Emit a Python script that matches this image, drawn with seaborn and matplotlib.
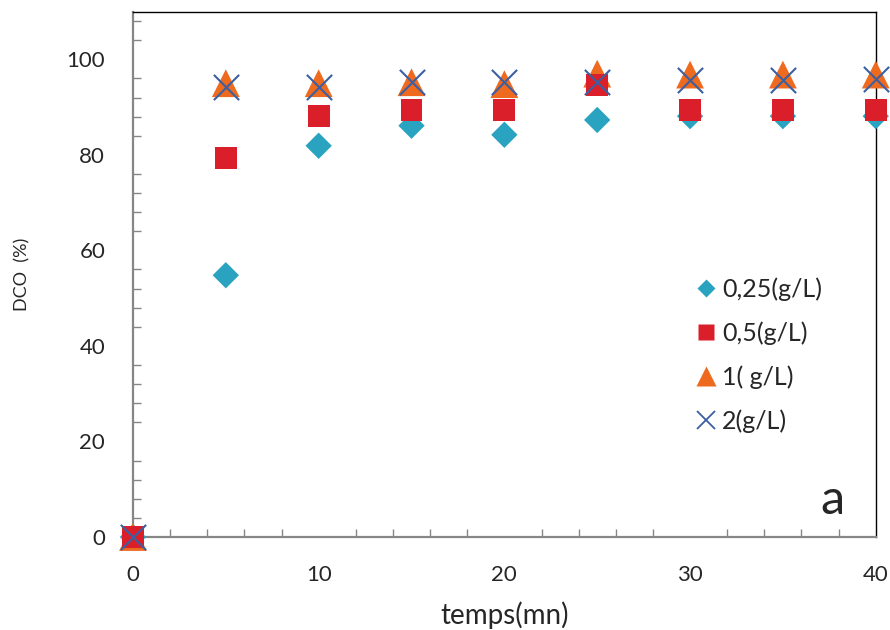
import matplotlib
matplotlib.use("Agg")
import matplotlib.pyplot as plt
import seaborn as sns
import pandas as pd
from matplotlib.ticker import MultipleLocator
from matplotlib.lines import Line2D

temps = [0, 5, 10, 15, 20, 25, 30, 35, 40]
dco_025 = [0, 54.8, 81.9, 86.1, 84.2, 87.3, 88.1, 88.1, 88.1]
dco_05 = [0, 79.4, 88.2, 89.3, 89.3, 94.6, 89.3, 89.3, 89.3]
dco_1 = [0, 95.0, 95.0, 95.2, 94.8, 97.0, 96.8, 96.8, 96.8]
dco_2 = [0, 94.3, 94.3, 95.2, 95.2, 95.3, 95.7, 95.7, 95.8]
labels = ["0,25(g/L)", "0,5(g/L)", "1( g/L)", "2(g/L)"]

sns.set_style("white")
plt.rcParams['font.family'] = ['Lato', 'DejaVu Sans']

fig = plt.figure(figsize=(8.9, 6.3), dpi=100)
ax = fig.add_axes([0.1494, 0.1476, 0.8346, 0.8341])

c_d, c_s, c_t, c_x = "#2AA3C0", "#DB1F2A", "#EE6A1F", "#3C5FA2"

sns.scatterplot(x=temps, y=dco_025, marker="D", s=180, color=c_d, edgecolor="none", ax=ax, zorder=3, clip_on=False)
sns.scatterplot(x=temps, y=dco_1, marker="^", s=400, color=c_t, edgecolor="none", ax=ax, zorder=4, clip_on=False)
sns.scatterplot(x=temps, y=dco_05, marker="s", s=250, color=c_s, edgecolor="none", ax=ax, zorder=5, clip_on=False)
sns.scatterplot(x=temps, y=dco_2, marker="x", s=330, color=c_x, linewidth=1.5, ax=ax, zorder=6, clip_on=False)

ax.set_xlim(0, 40)
ax.set_ylim(0, 110)
ax.xaxis.set_major_locator(MultipleLocator(10))
ax.xaxis.set_minor_locator(MultipleLocator(2))
ax.yaxis.set_major_locator(MultipleLocator(20))
ax.yaxis.set_minor_locator(MultipleLocator(4))

gray = "#868686"
for s in ["left", "bottom"]:
    ax.spines[s].set_color(gray)
    ax.spines[s].set_linewidth(1.6)
for s in ["top", "right"]:
    ax.spines[s].set_color("black")
    ax.spines[s].set_linewidth(1.0)

ax.tick_params(axis="y", which="major", direction="out", length=8, width=1.2, color=gray, labelsize=16, pad=12)
ax.tick_params(axis="y", which="minor", direction="in", length=6, width=1.0, color=gray, left=True)
ax.tick_params(axis="x", which="major", direction="inout", length=12, width=1.2, color=gray, labelsize=16, pad=14)
ax.tick_params(axis="x", which="minor", direction="in", length=6, width=1.0, color=gray, bottom=True)

ax.set_xlabel("temps(mn)", fontsize=20, labelpad=12)
ax.set_ylabel("DCO  (%)", fontsize=13, labelpad=26)

ax.text(0.942, 0.028, "a", transform=ax.transAxes, fontsize=35, ha="center", va="bottom")

handles = [
    Line2D([], [], marker="D", color=c_d, linestyle="none", markersize=9, markeredgecolor="none"),
    Line2D([], [], marker="s", color=c_s, linestyle="none", markersize=12, markeredgecolor="none"),
    Line2D([], [], marker="^", color=c_t, linestyle="none", markersize=14, markeredgecolor="none"),
    Line2D([], [], marker="x", color=c_x, linestyle="none", markersize=13, markeredgewidth=1.3),
]
leg = fig.legend(handles, labels, loc="upper left", bbox_to_anchor=(0.768, 0.58),
                 frameon=False, fontsize=18, handlelength=0.8, handletextpad=0.25,
                 labelspacing=0.82, borderpad=0)

fig.savefig("out.png", dpi=100)
